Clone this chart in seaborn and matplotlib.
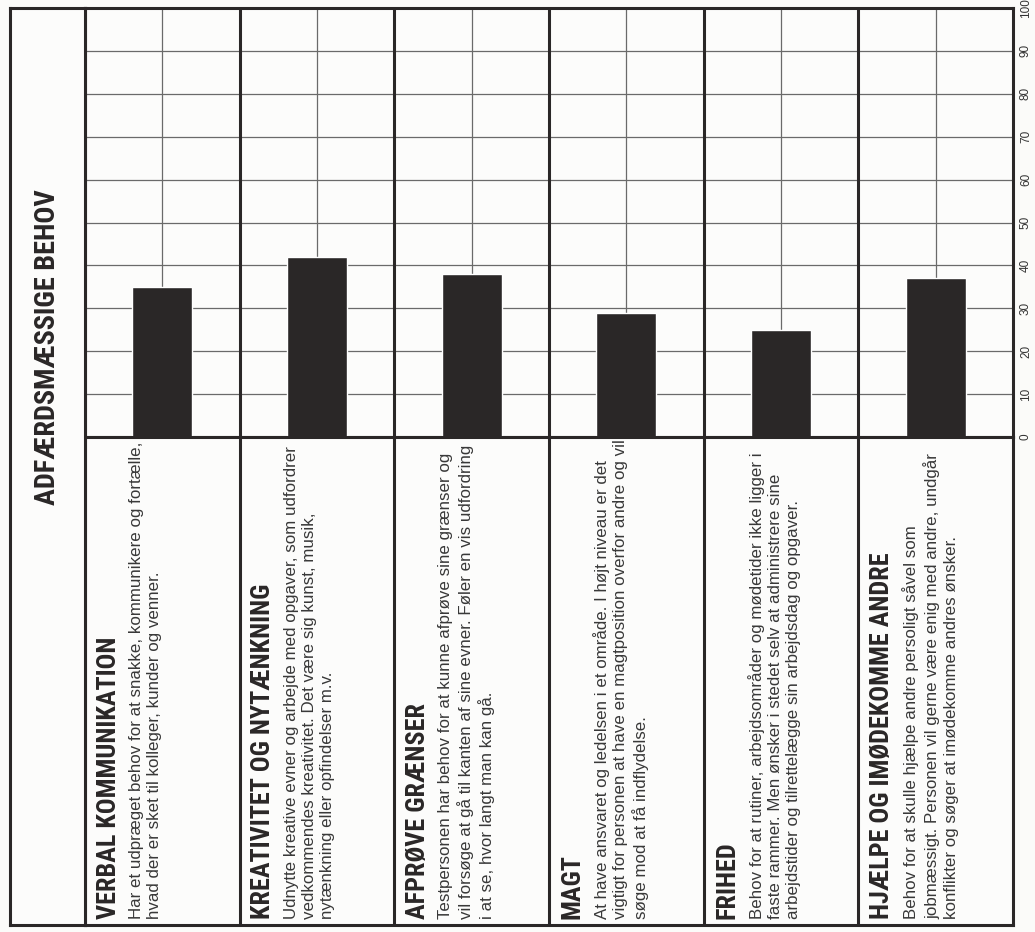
import matplotlib
matplotlib.use("Agg")
import matplotlib.pyplot as plt
import seaborn as sns
import pandas as pd

# --- data ---
headings = ["VERBAL KOMMUNIKATION", "KREATIVITET OG NYTÆNKNING", "AFPRØVE GRÆNSER",
            "MAGT", "FRIHED", "HJÆLPE OG IMØDEKOMME ANDRE"]
scores = [35, 42, 38, 29, 25, 37]
descriptions = [
    "Har et udpræget behov for at snakke, kommunikere og fortælle,\n"
    "hvad der er sket til kolleger, kunder og venner.",
    "Udnytte kreative evner og arbejde med opgaver, som udfordrer\n"
    "vedkommendes kreativitet. Det være sig kunst, musik,\n"
    "nytænkning eller opfindelser m.v.",
    "Testpersonen har behov for at kunne afprøve sine grænser og\n"
    "vil forsøge at gå til kanten af sine evner. Føler en vis udfordring\n"
    "i at se, hvor langt man kan gå.",
    "At have ansvaret og ledelsen i et område. I højt niveau er det\n"
    "vigtigt for personen at have en magtposition overfor andre og vil\n"
    "søge mod at få indflydelse.",
    "Behov for at rutiner, arbejdsområder og mødetider ikke ligger i\n"
    "faste rammer. Men ønsker i stedet selv at administrere sine\n"
    "arbejdstider og tilrettelægge sin arbejdsdag og opgaver.",
    "Behov for at skulle hjælpe andre persoligt såvel som\n"
    "jobmæssigt. Personen vil gerne være enig med andre, undgår\n"
    "konflikter og søger at imødekomme andres ønsker.",
]
ticks = list(range(0, 101, 10))
title = "ADFÆRDSMÆSSIGE BEHOV"

df = pd.DataFrame({"behov": headings, "score": scores})

sns.set_style("white")
plt.rcParams["font.family"] = ["Liberation Sans", "DejaVu Sans"]
head_font = ["Roboto Condensed", "Roboto", "DejaVu Sans"]

W, H = 1035, 932
fig = plt.figure(figsize=(W / 100, H / 100), dpi=100)
fig.patch.set_facecolor("#fbfbf9")

ink = "#2a2727"
grid = "#6a6a6a"

def box(x0, y0, x1, y1):
    # pixel box (top-left origin) -> figure fraction
    return [x0 / W, 1 - y1 / H, (x1 - x0) / W, (y1 - y0) / H]

# --- bar part ---
ax = fig.add_axes(box(85, 8, 1013, 437))
sns.barplot(data=df, x="behov", y="score", color=ink, width=0.39,
            saturation=1, ax=ax, zorder=3)
ax.set_xlim(-0.5, len(headings) - 0.5)
ax.set_ylim(0, 100)
ax.set_yticks(ticks)
ax.set_xticks(range(len(headings)))
ax.set_xticklabels([])
ax.set_xlabel("")
ax.set_ylabel("")
ax.set_facecolor("#fcfcfb")
ax.set_axisbelow(True)
ax.grid(True, color=grid, lw=0.9)
for i in range(len(headings) - 1):
    ax.axvline(i + 0.5, color=ink, lw=2.2, zorder=4)
ax.yaxis.tick_right()
ax.tick_params(axis="y", length=0, pad=5, labelsize=8.5, labelrotation=90,
               labelcolor="#333333")
ax.tick_params(axis="x", length=0)
for lab in ax.get_yticklabels():
    lab.set_va("center")
for s in ax.spines.values():
    s.set_color(ink)
    s.set_linewidth(2.2)

# --- text part ---
axt = fig.add_axes(box(85, 437, 1013, 925))
axt.set_xlim(-0.5, len(headings) - 0.5)
axt.set_ylim(0, 1)
axt.set_xticks([])
axt.set_yticks([])
axt.set_facecolor("#fcfcfb")
for s in axt.spines.values():
    s.set_color(ink)
    s.set_linewidth(2.2)
for i in range(len(headings) - 1):
    axt.axvline(i + 0.5, color=ink, lw=2.2)
for i, (h, d) in enumerate(zip(headings, descriptions)):
    axt.text(i - 0.5 + 0.075, 0.012, h, rotation=90, ha="left", va="bottom",
             family=head_font, fontweight="heavy", fontsize=18.8,
             fontstretch="condensed", color=ink)
    axt.text(i - 0.5 + 0.285, 0.012, d, rotation=90, ha="left", va="bottom",
             multialignment="left", fontsize=12.2, linespacing=1.28,
             color="#383838")

# --- header column ---
axh = fig.add_axes(box(10, 8, 85, 925))
axh.set_xticks([])
axh.set_yticks([])
axh.set_facecolor("#fcfcfb")
for s in axh.spines.values():
    s.set_color(ink)
    s.set_linewidth(2.2)
axh.text(0.5, 1 - (347 - 8) / 917, title, rotation=90, ha="center", va="center",
         transform=axh.transAxes, family=head_font, fontweight="heavy",
         fontsize=20.3, fontstretch="condensed", color=ink)

fig.savefig("out.png", dpi=100, facecolor=fig.get_facecolor())
